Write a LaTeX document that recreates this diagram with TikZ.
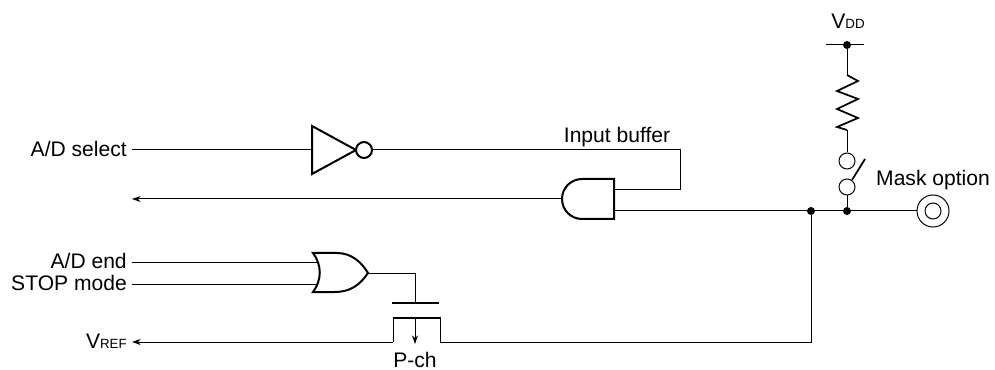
\documentclass[tikz,border=0pt]{standalone}
\usepackage{fontspec}
\setmainfont{Liberation Sans}
\usetikzlibrary{arrows.meta,calc}
\tikzset{
  wire/.style={line width=0.75pt},
  gate/.style={line width=1.5pt, line join=miter},
  inarrow/.style={wire, -{Stealth[length=6.5pt,width=4.5pt]}},
  lbl/.style={inner sep=0pt, font=\fontsize{15.8}{18}\selectfont},
  sidelbl/.style={lbl, anchor=east, text height=10pt, text depth=0.5pt},
  junct/.style={circle, fill=black, inner sep=0pt, minimum size=6pt},
  ring/.style={circle, draw, line width=0.75pt, fill=white, inner sep=0pt, minimum size=12pt},
}
\newcommand{\smalltxt}[1]{{\fontsize{10}{12}\selectfont #1}}
\begin{document}
\begin{tikzpicture}[x=0.75pt,y=-0.75pt]
\useasboundingbox (0,0) rectangle (995,370);

%labels on the left
\node [sidelbl] (sel) at (127,150) {A/D select};
\node [sidelbl] (adend) at (127,262) {A/D end};
\node [sidelbl] (stop) at (127,284) {STOP mode};
\node [sidelbl] (vref) at (127,342) {V\smalltxt{REF}};
\coordinate (out) at (132,199);

%inverter
\draw [gate] (312,126) -- (356,150) -- (312,174) -- cycle;
\coordinate (invin) at (312,150);
\node [ring, gate] (bub) at (364,150) {};
\draw [wire] ($(sel.east)+(5,0)$) -- (invin);

%and gate
\draw [gate] (614,179) -- (582,179) arc[start angle=270, end angle=90, radius=20] -- (614,219) -- cycle;
\coordinate (andin) at (562,199);
\coordinate (andb) at (614,190);
\coordinate (andc) at (614,211);
\coordinate (bend1) at (680,150);
\coordinate (bend2) at (680,190);
\draw [wire] (bub.east) -- (bend1) -- (bend2) -- (andb);
\draw [inarrow] (andin) -- (out);
\node [lbl] (inbuf) at (617,137) {Input buffer};

%or gate
\draw [gate] (313,253) -- (337,253) .. controls (352,253) and (362,263) .. (368,273) .. controls (360,285) and (350,292) .. (335,292) -- (313,292) .. controls (322,280) and (322,265) .. cycle;
\coordinate (orin1) at (317,262);
\coordinate (orin2) at (317,284);
\coordinate (orout) at (368,273);
\draw [wire] ($(adend.east)+(5,0)$) -- (orin1);
\draw [wire] ($(stop.east)+(5,0)$) -- (orin2);

%p-ch transistor
\coordinate (gatemid) at (415,303);
\coordinate (orbend) at (415,273);
\draw [gate] (392,303) -- (gatemid) -- (439,303);
\draw [wire] (orout) -- (orbend) -- (gatemid);
\coordinate (src) at (440,342);
\coordinate (drn) at (393,342);
\coordinate (chmid) at (415,318);
\draw [wire] (drn) -- (393,318);
\draw [wire] (src) -- (440,318);
\draw [gate] (392.5,318) -- (440.5,318);
\draw [inarrow] (chmid) -- (415,344);
\draw [inarrow] (drn) -- ($(vref.east)+(5,0)$);
\node [lbl] (pch) at (415,360) {P-ch};

%right side
\node [junct] (j1) at (811,211) {};
\node [junct] (j2) at (847,211) {};
\node [junct] (vddpt) at (847,45) {};
\coordinate (vddl) at (826,45);
\coordinate (vddr) at (864,45);
\draw [wire] (vddl) -- (vddr);
\node [lbl] (vdd) at (848,21) {V\smalltxt{DD}};
\node [ring] (sw1) at (847,161) {};
\node [ring] (sw2) at (847,187) {};
\node [ring, minimum size=24pt] (term) at (933,211) {};
\node [ring] (termin) at (933,211) {};
\node [lbl] (mask) at (933,180) {Mask option};
\draw [wire] (vddpt) -- (847,75);
\draw [gate, line width=1.3pt] (847,75) -- (858,81) -- (837,91) -- (858,99) -- (837,109) -- (858,118) -- (837,127) -- (847,130);
\draw [wire] (847,130) -- (sw1);
\draw [wire, line width=1.3pt] (852,180) -- (865,159);
\draw [wire] (sw2) -- (j2);
\draw [wire] (andc) -- (j1) -- (j2) -- (term);
\coordinate (corner) at (811,342);
\draw [wire] (j1) -- (corner) -- (src);
\end{tikzpicture}
\end{document}
